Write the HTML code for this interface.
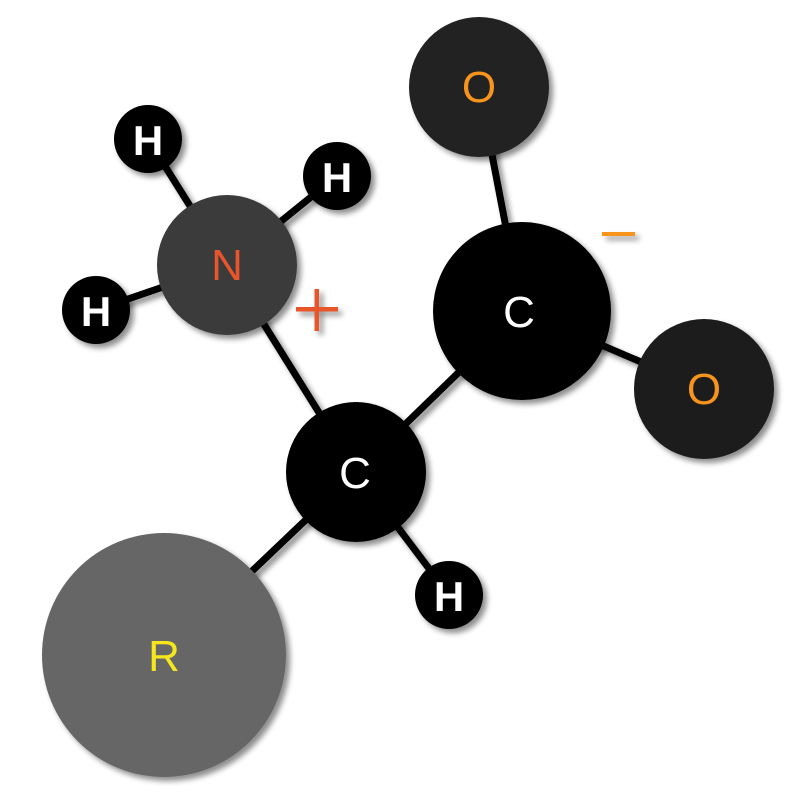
<!DOCTYPE html>
<html><head><meta charset="utf-8"><style>
html,body{margin:0;padding:0;background:#fff;width:800px;height:800px;overflow:hidden}
text{font-family:"Liberation Sans",sans-serif;text-anchor:middle}
</style></head><body>
<svg width="800" height="800" viewBox="0 0 800 800" xmlns="http://www.w3.org/2000/svg">
<defs>
<filter id="sh" x="-30%" y="-30%" width="160%" height="160%">
<feGaussianBlur in="SourceAlpha" stdDeviation="3"/>
<feOffset dx="4" dy="4" result="b"/>
<feComponentTransfer><feFuncA type="linear" slope="0.45"/></feComponentTransfer>
<feMerge><feMergeNode/><feMergeNode in="SourceGraphic"/></feMerge>
</filter>
</defs>
<g stroke="#000" stroke-width="7" filter="url(#sh)">
<line x1="148" y1="139" x2="227" y2="265"/>
<line x1="337" y1="176" x2="227" y2="265"/>
<line x1="96" y1="310" x2="227" y2="265"/>
<line x1="227" y1="265" x2="356" y2="472"/>
<line x1="479" y1="87" x2="522" y2="311"/>
<line x1="522" y1="311" x2="704" y2="389"/>
<line x1="522" y1="311" x2="356" y2="472"/>
<line x1="356" y1="472" x2="449" y2="595"/>
<line x1="356" y1="472" x2="164" y2="655"/>
</g>
<g filter="url(#sh)">
<circle cx="479" cy="87" r="70" fill="#222"/>
<circle cx="148" cy="139" r="34" fill="#000"/>
<circle cx="337" cy="176" r="34" fill="#000"/>
<circle cx="227" cy="265" r="70" fill="#3a3a3a"/>
<circle cx="96" cy="310" r="34" fill="#000"/>
<circle cx="522" cy="311" r="89" fill="#000"/>
<circle cx="704" cy="389" r="70" fill="#1e1e1e"/>
<circle cx="356" cy="472" r="70" fill="#000"/>
<circle cx="449" cy="595" r="34" fill="#000"/>
<circle cx="164" cy="655" r="122" fill="#666"/>
</g>
<g font-size="44">
<text x="479" y="102" fill="#f7941d">O</text>
<text x="704" y="404" fill="#f7941d">O</text>
<text x="227" y="280" fill="#e8552a">N</text>
<text x="519" y="327" fill="#fff">C</text>
<text x="355" y="488" fill="#fff">C</text>
<text x="164" y="671" fill="#f5e61e">R</text>
</g>
<g font-size="42" font-weight="bold" fill="#fff">
<text x="148" y="155">H</text>
<text x="337" y="192">H</text>
<text x="96" y="326">H</text>
<text x="449" y="611">H</text>
</g>
<g filter="url(#sh)">
<rect x="296" y="307" width="42" height="4.5" fill="#e8552a"/>
<rect x="314.5" y="289" width="4.5" height="42" fill="#e8552a"/>
<rect x="602" y="232" width="33" height="4" fill="#f7941d"/>
</g>
</svg>
</body></html>
